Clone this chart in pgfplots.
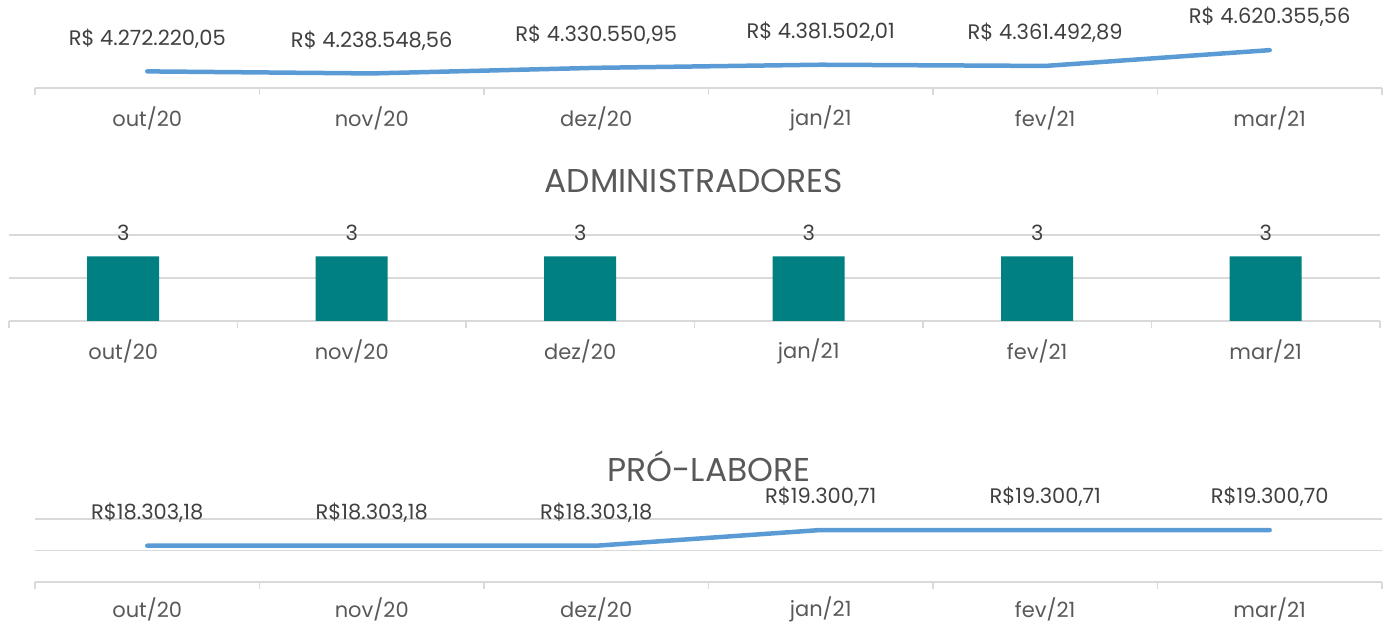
\documentclass[border=0pt]{standalone}
\usepackage{pgfplots}
\pgfplotsset{compat=1.18}
\usepackage{fontspec}
\setmainfont{Poppins}
\definecolor{linec}{HTML}{5B9BD5}
\definecolor{barc}{HTML}{008080}
\definecolor{gridc}{HTML}{D9D9D9}
\definecolor{txt}{HTML}{404040}
\definecolor{tickc}{HTML}{595959}
\pgfplotsset{
 panel/.style={
  scale only axis, anchor=south west, clip=false,
  xmin=-0.5, xmax=5.5,
  xtick={0,...,5},
  xticklabels={out/20,nov/20,dez/20,jan/21,fev/21,mar/21},
  minor xtick={-0.5,0.5,...,5.5},
  major tick length=0pt, minor tick length=7pt,
  tick align=outside,
  axis x line*=bottom, axis y line*=left,
  x axis line style={-, draw=gridc, line width=1.5pt},
  y axis line style={draw=none},
  minor x tick style={draw=gridc, line width=1.5pt},
  major grid style={draw=gridc, line width=1.5pt},
  scaled y ticks=false,
  yticklabels={},
  xticklabel style={font=\fontsize{21}{25}\selectfont, text=tickc, anchor=center, yshift=-30pt},
  point meta=explicit symbolic,
  nodes near coords,
  every node near coord/.append style={font=\fontsize{21}{25}\selectfont, text=txt, anchor=center, yshift=33pt},
 }
}
\begin{document}
\begin{tikzpicture}
\path[use as bounding box] (0,0) rectangle (1389pt,623pt);
% top panel
\begin{axis}[panel, at={(35pt,535pt)}, width=1347pt, height=61pt,
  ymin=4000000, ymax=5000000, ytick=\empty]
\addplot[linec, line width=4.5pt, line cap=round, line join=round] coordinates {
 (0,4272220.05) [R\$ 4.272.220,05]
 (1,4238548.56) [R\$ 4.238.548,56]
 (2,4330550.95) [R\$ 4.330.550,95]
 (3,4381502.01) [R\$ 4.381.502,01]
 (4,4361492.89) [R\$ 4.361.492,89]
 (5,4620355.56) [R\$ 4.620.355,56]
};
\end{axis}
% middle panel
\begin{axis}[panel, at={(9pt,302pt)}, width=1371pt, height=86pt,
  ymin=0, ymax=4, ytick={0,2,4}, ymajorgrids,
  every node near coord/.append style={yshift=-9pt}]
\addplot[ybar, bar width=72pt, fill=barc, draw=none] coordinates {
 (0,3) [3] (1,3) [3] (2,3) [3] (3,3) [3] (4,3) [3] (5,3) [3]
};
\node[font=\fontsize{33}{38}\selectfont, text=tickc] at (rel axis cs:0.4996,1.628) {ADMINISTRADORES};
\end{axis}
% bottom panel
\begin{axis}[panel, at={(35pt,41pt)}, width=1347pt, height=63pt,
  ymin=16000, ymax=20000, ytick={16000,18000,20000}, ymajorgrids,
  xticklabel style={yshift=3pt}]
\addplot[linec, line width=4.5pt, line cap=round, line join=round] coordinates {
 (0,18303.18) [R\$18.303,18]
 (1,18303.18) [R\$18.303,18]
 (2,18303.18) [R\$18.303,18]
 (3,19300.71) [R\$19.300,71]
 (4,19300.71) [R\$19.300,71]
 (5,19300.70) [R\$19.300,70]
};
\node[font=\fontsize{33}{38}\selectfont, text=tickc] at (rel axis cs:0.5004,1.84) {PRÓ-LABORE};
\end{axis}
\end{tikzpicture}
\end{document}
